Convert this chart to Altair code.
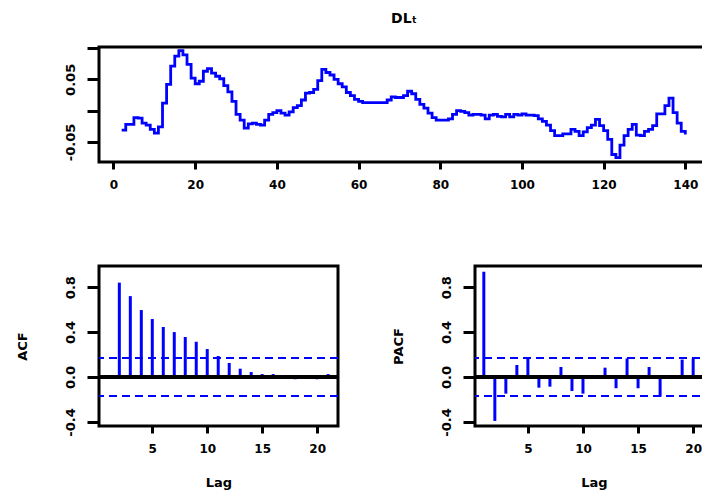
import altair as alt
import pandas as pd

# ---- data ----
t_values = list(range(2, 141))
dl_values = [
    -0.031, -0.022, -0.022, -0.011, -0.012, -0.020, -0.023, -0.030, -0.036, -0.026,   # 2-11
    0.012, 0.042, 0.071, 0.087, 0.096, 0.089, 0.074, 0.052, 0.043, 0.047,            # 12-21
    0.063, 0.067, 0.060, 0.055, 0.051, 0.040, 0.030, 0.015, -0.006, -0.015,          # 22-31
    -0.028, -0.021, -0.020, -0.022, -0.023, -0.015, -0.006, -0.003, 0.000, -0.004,   # 32-41
    -0.007, -0.002, 0.005, 0.008, 0.017, 0.028, 0.029, 0.034, 0.048, 0.066,          # 42-51
    0.061, 0.057, 0.050, 0.043, 0.038, 0.029, 0.024, 0.018, 0.015, 0.013,            # 52-61
    0.013, 0.013, 0.013, 0.013, 0.013, 0.017, 0.022, 0.021, 0.021, 0.024,            # 62-71
    0.031, 0.027, 0.018, 0.010, 0.004, -0.004, -0.011, -0.015, -0.015, -0.015,       # 72-81
    -0.013, -0.006, 0.000, -0.001, -0.003, -0.007, -0.006, -0.006, -0.007, -0.013,   # 82-91
    -0.007, -0.006, -0.009, -0.010, -0.006, -0.010, -0.006, -0.007, -0.005, -0.007,  # 92-101
    -0.007, -0.008, -0.013, -0.017, -0.023, -0.032, -0.040, -0.040, -0.037, -0.037,  # 102-111
    -0.030, -0.033, -0.040, -0.034, -0.027, -0.023, -0.014, -0.024, -0.032, -0.046,  # 112-121
    -0.070, -0.075, -0.055, -0.040, -0.030, -0.022, -0.039, -0.040, -0.033, -0.030,  # 122-131
    -0.024, -0.005, -0.005, 0.008, 0.020, -0.003, -0.020, -0.033, -0.038,            # 132-140
]

acf_lags = list(range(2, 22))
acf_values = [0.84, 0.72, 0.596, 0.516, 0.445, 0.40, 0.356, 0.314, 0.249, 0.187,
              0.125, 0.074, 0.044, 0.026, 0.026, 0.004, -0.020, -0.003, -0.020, 0.026]

pacf_lags = list(range(1, 21))
pacf_values = [0.937, -0.391, -0.148, 0.107, 0.166, -0.095, -0.086, 0.089, -0.125, -0.148,
               0.004, 0.083, -0.100, 0.165, -0.100, 0.089, -0.175, -0.004, 0.155, 0.166]

conf_limits = [0.17, -0.17]

top_x_ticks = [0, 20, 40, 60, 80, 100, 120, 140]
top_y_ticks = [-0.05, 0.0, 0.05, 0.1]
cf_x_ticks = [5, 10, 15, 20]
cf_y_ticks = [-0.4, -0.2, 0.0, 0.2, 0.4, 0.6, 0.8]

# ---- tables ----
dl_df = pd.DataFrame({"t": t_values, "dl": dl_values})
acf_df = pd.DataFrame({"lag": acf_lags, "value": acf_values})
pacf_df = pd.DataFrame({"lag": pacf_lags, "value": pacf_values})
conf_df = pd.DataFrame({"c": conf_limits})

FONT = "DejaVu Sans"
BLUE = "#0000FF"


def y_axis(values, label_expr, title=None):
    kw = dict(
        values=values, labelExpr=label_expr, grid=False, domain=False,
        tickSize=12, tickWidth=3, tickColor="black",
        labelAngle=270, labelAlign="center", labelBaseline="alphabetic",
        labelPadding=13, labelFont=FONT, labelFontSize=13, labelFontWeight="bold",
        labelColor="black", labelOverlap=False,
    )
    if title is not None:
        kw.update(title=title, titleFont=FONT, titleFontSize=13, titleFontWeight="bold",
                  titleColor="black", titleAngle=270, titleAlign="center",
                  titleBaseline="middle", titleX=-77, titleY=80)
    else:
        kw.update(title=None)
    return alt.Axis(**kw)


def x_axis(values, title=None):
    kw = dict(
        values=values, grid=False, domain=False, format="d",
        tickSize=7, tickWidth=3, tickColor="black",
        labelPadding=10, labelFont=FONT, labelFontSize=12, labelFontWeight="bold",
        labelColor="black", labelOverlap=False, labelFlush=False,
    )
    if title is not None:
        kw.update(title=title, titleFont=FONT, titleFontSize=13, titleFontWeight="bold",
                  titleColor="black", titleBaseline="alphabetic", titleY=60)
    else:
        kw.update(title=None)
    return alt.Axis(**kw)


top_y_expr = "datum.value == 0.05 ? '0.05' : (datum.value == -0.05 ? '-0.05' : '')"
cf_y_expr = ("datum.value == 0.8 ? '0.8' : (datum.value == 0.4 ? '0.4' : "
             "(datum.value == 0 ? '0.0' : (datum.value == -0.4 ? '-0.4' : '')))")

# ---- top: time series ----
top = alt.Chart(dl_df).mark_line(color=BLUE, strokeWidth=2.8, interpolate="step-after").encode(
    x=alt.X("t:Q", scale=alt.Scale(domain=[-3.55, 145.8], nice=False, zero=False),
            axis=x_axis(top_x_ticks)),
    y=alt.Y("dl:Q", scale=alt.Scale(domain=[-0.082, 0.1017], nice=False, zero=False),
            axis=y_axis(top_y_ticks, top_y_expr)),
).properties(
    width=610, height=115,
    title=alt.TitleParams("DLₜ", font=FONT, fontSize=14, fontWeight="bold", color="black",
                          anchor="middle", baseline="alphabetic", offset=8),
)


def cf_panel(df, domain_x, width, ytitle):
    xs = alt.Scale(domain=domain_x, nice=False, zero=False)
    ys = alt.Scale(domain=[-0.436, 0.988], nice=False, zero=False)
    bars = alt.Chart(df).mark_rule(color=BLUE, strokeWidth=3).encode(
        x=alt.X("lag:Q", scale=xs, axis=x_axis(cf_x_ticks, "Lag")),
        y=alt.Y("value:Q", scale=ys, axis=y_axis(cf_y_ticks, cf_y_expr, ytitle)),
        y2=alt.datum(0),
    )
    zero = alt.Chart(df).mark_rule(color="black", strokeWidth=3).encode(
        y=alt.Y(datum=0)
    )
    conf = alt.Chart(conf_df).mark_rule(color=BLUE, strokeWidth=2, strokeDash=[8, 5]).encode(
        y=alt.Y("c:Q")
    )
    return alt.layer(bars, zero, conf).properties(width=width, height=160)


acf = cf_panel(acf_df, [0.15, 21.9], 239, "ACF")
pacf = cf_panel(pacf_df, [0.2, 21.8], 238, "PACF")

bottom = alt.hconcat(acf, pacf, spacing=49)

chart = alt.vconcat(top, bottom, spacing=72).properties(
    autosize=alt.AutoSizeParams(type="none"),
    padding={"left": 99, "top": 47, "right": 603, "bottom": 446},
    background="white",
).configure_view(
    stroke="black", strokeWidth=3
)

chart.save("out.html", embed_options={"renderer": "svg", "actions": False})
